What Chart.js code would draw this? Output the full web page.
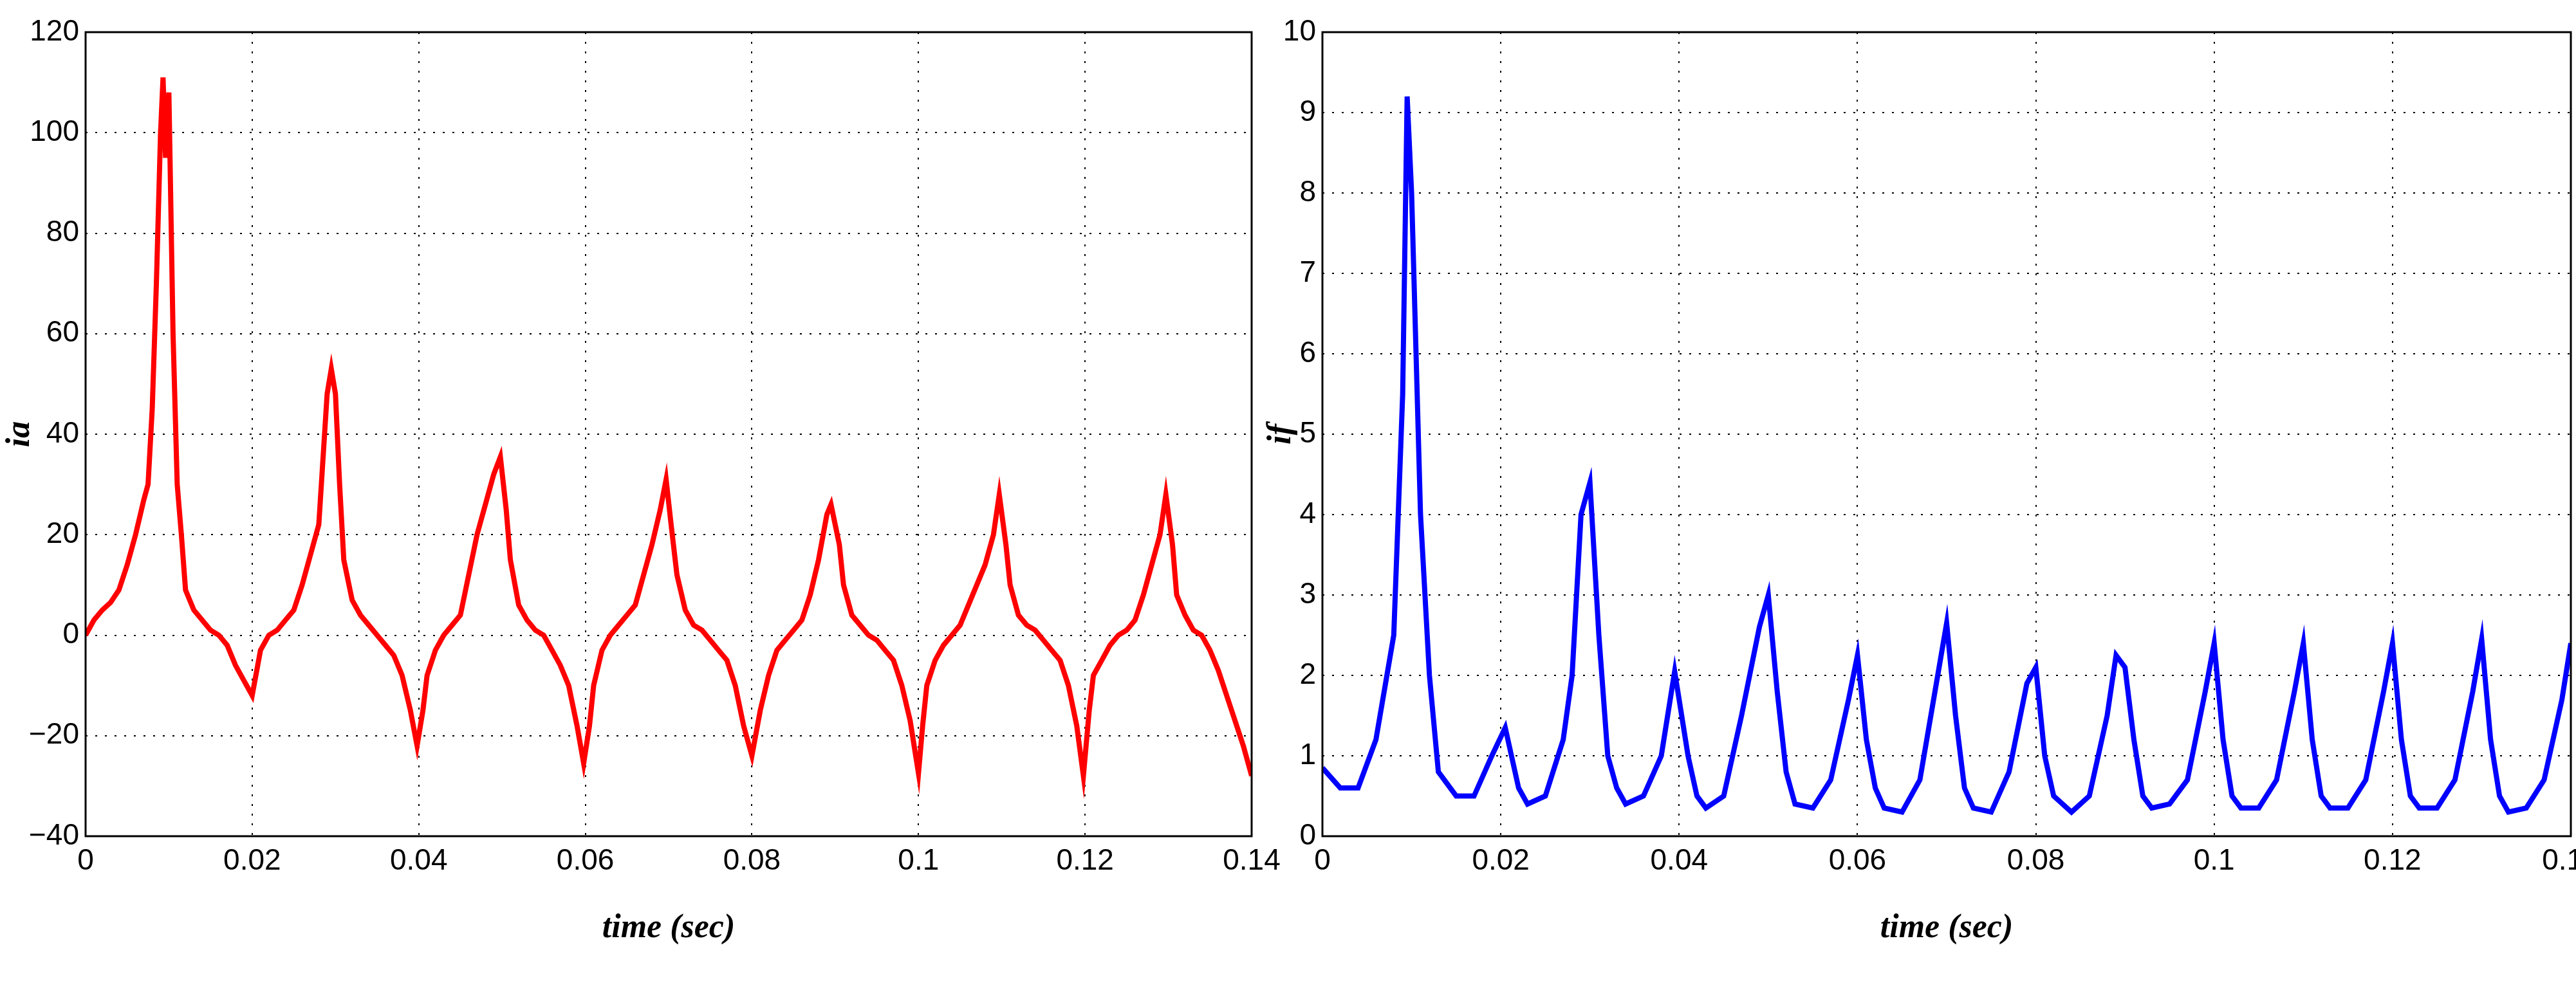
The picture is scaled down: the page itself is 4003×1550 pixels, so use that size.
<!DOCTYPE html>
<html>
<head>
  <meta charset="UTF-8">
  <title>ia / if</title>
  <script src="https://cdn.jsdelivr.net/npm/chart.js"></script>
  <style>
    body { margin: 0; background: #fff; width: 4003px; height: 1550px; position: relative; overflow: hidden; }
    .box { position: absolute; top: 0; height: 1550px; }
  </style>
</head>
<body>
  <div class="box" style="left:0;width:1990px"><canvas id="iaChart"></canvas></div>
  <div class="box" style="left:1960px;width:2043px"><canvas id="ifChart"></canvas></div>

  <script>
    // time in ms
    const iaTime = [0,1,2,3,4,5,6,7,7.5,8,8.5,9,9.3,9.6,10,10.5,11,11.5,12,13,14,15,16,17,18,19,20,21,22,23,24,25,26,27,28,28.5,29,29.5,30,30.5,31,32,33,34,35,36,37,38,39,39.8,40.5,41,42,43,44,45,46,47,48,49,49.8,50.5,51,52,53,54,55,56,57,58,59,59.8,60.5,61,62,63,64,65,66,67,68,69,69.7,70.3,71,72,73,74,75,76,77,78,79,80,81,82,83,84,85,86,87,88,89,89.5,90.5,91,92,93,94,95,96,97,98,99,100,100.5,101,102,103,104,105,106,107,108,109,109.7,110.5,111,112,113,114,115,116,117,118,119,119.8,120.5,121,122,123,124,125,126,127,128,129,129.7,130.5,131,132,133,134,135,136,137,138,139,140];
    const iaValues = [0,3,5,6.5,9,14,20,27,30,45,70,100,111,95,108,60,30,20,9,5,3,1,0,-2,-6,-9,-12,-3,0,1,3,5,10,16,22,35,48,53,48,30,15,7,4,2,0,-2,-4,-8,-15,-22,-15,-8,-3,0,2,4,12,20,26,32,35.5,25,15,6,3,1,0,-3,-6,-10,-18,-25.5,-18,-10,-3,0,2,4,6,12,18,25,31,22,12,5,2,1,-1,-3,-5,-10,-18,-24,-15,-8,-3,-1,1,3,8,15,24,26,18,10,4,2,0,-1,-3,-5,-10,-17,-27.5,-18,-10,-5,-2,0,2,6,10,14,20,28,18,10,4,2,1,-1,-3,-5,-10,-18,-28,-15,-8,-5,-2,0,1,3,8,14,20,28,18,8,4,1,0,-3,-7,-12,-17,-22,-28];

    const ifTime = [0,2,4,6,8,9,9.5,10,11,12,13,15,17,19,20.5,22,23,25,27,28,29,30,31,32,33,34,36,38,39.5,41,42,43,45,47,49,50,51,52,53,55,57,59,60,61,62,63,65,67,69,70,71,72,73,75,77,79,80,81,82,84,86,88,89,90,91,92,93,95,97,99,100,101,102,103,105,107,109,110,111,112,113,115,117,119,120,121,122,123,125,127,129,130,131,132,133,135,137,139,140];
    const ifValues = [0.85,0.6,0.6,1.2,2.5,5.5,9.2,8,4,2,0.8,0.5,0.5,1.0,1.35,0.6,0.4,0.5,1.2,2,4,4.4,2.5,1,0.6,0.4,0.5,1,2.05,1,0.5,0.35,0.5,1.5,2.6,3.0,1.8,0.8,0.4,0.35,0.7,1.7,2.25,1.2,0.6,0.35,0.3,0.7,2.0,2.65,1.5,0.6,0.35,0.3,0.8,1.9,2.1,1,0.5,0.3,0.5,1.5,2.25,2.1,1.2,0.5,0.35,0.4,0.7,1.8,2.4,1.2,0.5,0.35,0.35,0.7,1.8,2.4,1.2,0.5,0.35,0.35,0.7,1.8,2.4,1.2,0.5,0.35,0.35,0.7,1.8,2.45,1.2,0.5,0.3,0.35,0.7,1.7,2.4];

    const xTicks = [0,0.02,0.04,0.06,0.08,0.1,0.12,0.14];

    const frame = {
      id: 'frame',
      afterDraw(chart) {
        const a = chart.chartArea, c = chart.ctx;
        c.save();
        c.strokeStyle = '#000';
        c.lineWidth = 3;
        c.strokeRect(a.left, a.top, a.right - a.left, a.bottom - a.top);
        c.restore();
      }
    };

    function makeChart(id, times, values, color, yMin, yMax, yStep, yTitle, yAxisWidth, rightPad) {
      new Chart(document.getElementById(id), {
        type: 'line',
        data: {
          datasets: [{
            data: times.map((t, i) => ({ x: t / 1000, y: values[i] })),
            borderColor: color,
            borderWidth: 8,
            pointRadius: 0,
            tension: 0,
            fill: false
          }]
        },
        options: {
          responsive: true,
          maintainAspectRatio: false,
          animation: false,
          plugins: { legend: { display: false }, tooltip: { enabled: false } },
          layout: { padding: { top: 50, right: rightPad, left: 0, bottom: 75 } },
          scales: {
            x: {
              type: 'linear', min: 0, max: 0.14,
              afterBuildTicks: s => { s.ticks = xTicks.map(v => ({ value: v })); },
              afterFit: s => { s.height = 175; s.paddingLeft = 0; s.paddingRight = 0; },
              grid: { color: '#000', lineWidth: 2, drawTicks: false },
              border: { display: false, dash: [3, 12] },
              ticks: {
                color: '#000', padding: 12,
                font: { family: 'Liberation Sans', size: 46 },
                callback: v => String(+v.toFixed(2))
              },
              title: {
                display: true, text: 'time (sec)', color: '#000', padding: 0,
                font: { family: 'Liberation Serif', size: 52, weight: 'bold', style: 'italic' }
              }
            },
            y: {
              min: yMin, max: yMax,
              afterFit: s => { s.width = yAxisWidth; },
              grid: { color: '#000', lineWidth: 2, drawTicks: false },
              border: { display: false, dash: [3, 12] },
              ticks: {
                stepSize: yStep, color: '#000', padding: 10,
                font: { family: 'Liberation Sans', size: 46 },
                callback: v => v < 0 ? '\u2212' + Math.abs(v) : String(v)
              },
              title: {
                display: true, text: yTitle, color: '#000', padding: 0,
                font: { family: 'Liberation Serif', size: 52, weight: 'bold', style: 'italic' }
              }
            }
          }
        },
        plugins: [frame]
      });
    }

    makeChart('iaChart', iaTime, iaValues, '#ff0000', -40, 120, 20, 'ia', 133, 45);
    makeChart('ifChart', ifTime, ifValues, '#0000ff', 0, 10, 1, 'if', 95, 8);
  </script>
</body>
</html>
